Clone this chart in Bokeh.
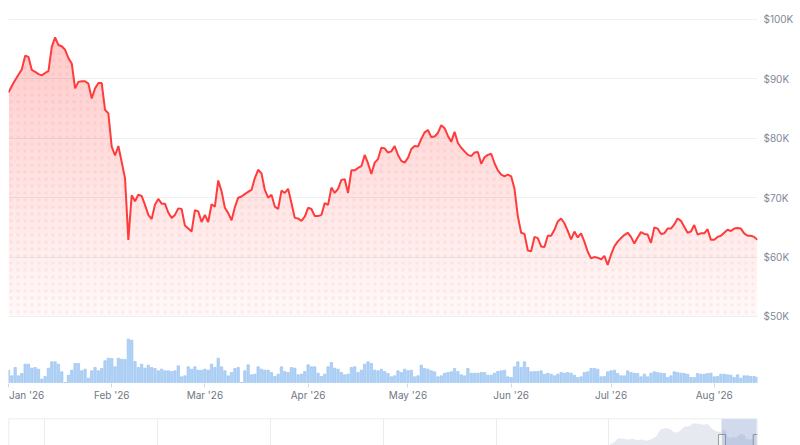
import numpy as np
import pandas as pd
from bokeh.plotting import figure
from bokeh.layouts import column
from bokeh.models import Range1d, FixedTicker, BoxAnnotation, Grid, Span
from bokeh.embed import file_html
from bokeh.resources import INLINE

# ---------------- data ----------------
start_date = "2026-01-01"

# daily price, thousands of USD (Jan 1 2026 onwards)
price_k = [
    87.7, 88.8, 89.8, 90.7, 91.6, 93.9, 93.7, 91.5, 91.2, 90.8,
    90.6, 91.0, 91.3, 95.4, 97.0, 95.7, 95.5, 94.9, 93.5, 92.6,
    88.4, 89.5, 89.6, 89.6, 89.2, 86.7, 88.4, 89.3, 89.3, 84.8,
    84.2, 78.6, 77.1, 78.7, 76.0, 73.3, 62.9, 70.4, 69.4, 70.5,
    70.3, 68.8, 67.1, 66.4, 68.8, 69.8, 69.0, 69.0, 67.5, 66.6,
    67.1, 68.2, 68.1, 65.3, 64.8, 64.3, 67.9, 67.7, 65.9, 67.1,
    65.9, 68.9, 68.5, 72.9, 71.1, 68.3, 67.4, 66.2, 68.4, 70.0,
    70.2, 70.6, 71.0, 71.3, 73.3, 74.7, 74.1, 71.3, 70.0, 70.5,
    68.5, 68.1, 71.2, 70.8, 71.5, 69.1, 66.6, 66.5, 66.1, 66.8,
    68.3, 68.1, 66.9, 66.9, 67.1, 69.1, 68.8, 71.7, 70.8, 71.5,
    73.0, 73.1, 70.8, 74.6, 74.6, 75.0, 75.3, 77.2, 75.8, 74.0,
    75.9, 76.5, 78.4, 78.3, 77.6, 77.8, 78.7, 77.2, 76.2, 75.9,
    76.7, 78.2, 78.7, 78.6, 79.9, 81.0, 81.4, 80.2, 80.3, 80.9,
    82.2, 81.7, 80.4, 79.4, 81.1, 79.2, 78.4, 77.8, 77.2, 77.0,
    77.6, 77.7, 75.7, 76.8, 77.2, 77.4, 75.8, 74.6, 73.9, 73.6,
    73.9, 73.6, 71.5, 66.9, 64.1, 63.9, 61.1, 61.0, 63.4, 63.2,
    61.8, 61.7, 63.6, 63.6, 64.6, 66.0, 66.5, 65.7, 64.4, 63.0,
    64.3, 63.3, 64.0, 62.6, 60.9, 59.8, 60.0, 59.9, 59.6, 60.2,
    58.7, 60.4, 61.8, 62.6, 63.2, 63.7, 64.1, 63.4, 62.3, 63.3,
    64.2, 63.9, 63.8, 62.4, 65.0, 64.8, 63.9, 64.0, 64.8, 64.8,
    65.5, 66.5, 66.1, 65.1, 64.1, 64.3, 65.4, 63.8, 64.0, 64.0,
    64.7, 62.9, 62.9, 63.4, 63.6, 64.1, 64.6, 64.4, 64.8, 64.9,
    64.8, 64.0, 63.6, 63.6, 63.4, 62.9,
]

# daily traded volume, billions of USD
volume_bn = [
    37, 20, 45, 20, 27, 55, 55, 43, 45, 40, 10, 18, 43, 62, 62, 55, 32, 0, 22, 37,
    57, 57, 35, 40, 13, 35, 45, 35, 42, 65, 73, 72, 47, 73, 70, 69, 130, 127, 63, 45,
    55, 43, 52, 45, 42, 35, 40, 35, 35, 33, 35, 50, 17, 20, 47, 40, 47, 37, 37, 40,
    37, 55, 45, 73, 47, 35, 20, 30, 42, 45, 0, 35, 53, 23, 25, 47, 40, 37, 37, 30,
    18, 25, 47, 33, 30, 45, 43, 23, 25, 33, 53, 47, 47, 28, 18, 25, 47, 60, 43, 40,
    30, 23, 25, 45, 47, 30, 37, 55, 62, 57, 37, 35, 40, 33, 27, 17, 20, 35,
    30, 40, 35, 37, 17, 20, 52, 42, 40, 35, 32, 17, 20, 28, 30, 32, 42, 33, 23, 20,
    42, 28, 28, 28, 30, 30, 22, 22, 28, 33, 35, 37, 17, 15, 47, 62, 45, 62, 45, 32,
    33, 33, 35, 25, 28, 25, 20, 25, 30, 28, 30, 28, 22, 15, 17, 30, 32, 42, 42, 40,
    17, 18, 32, 35, 37, 27, 20, 20, 35, 30, 28, 27, 17, 25, 17, 28, 32, 30, 28, 27,
    15, 20, 32, 30, 28, 27, 25, 15, 15, 27, 25, 25, 27, 28, 17, 18, 25, 25, 23, 22,
    15, 23, 13, 20, 20, 18, 18, 16,
]

price_ticks_k = [50, 60, 70, 80, 90, 100]
price_tick_labels = ["$50K", "$60K", "$70K", "$80K", "$90K", "$100K"]
month_labels = ["Jan '26", "Feb '26", "Mar '26", "Apr '26",
                "May '26", "Jun '26", "Jul '26", "Aug '26"]

# navigator history (monthly, thousands of USD), Jan 2024 .. Dec 2025
nav_hist_start = "2024-01-01"
nav_hist_k = [43, 52, 66, 64, 62, 64, 60, 62, 58, 63, 72, 96,
              100, 97, 84, 88, 104, 106, 116, 114, 111, 113, 96, 88]
nav_grid_years = [2014, 2016, 2018, 2020, 2022, 2024, 2026]

# ---------------- derived ----------------
t0 = pd.Timestamp(start_date)
dates = pd.date_range(start_date, periods=len(price_k), freq="D")
day = np.array((dates - t0).days, dtype=float)
price = np.array(price_k) * 1000.0
volume = np.array(volume_bn, dtype=float)
price_ticks = [v * 1000 for v in price_ticks_k]
month_starts = pd.date_range(start_date, periods=len(month_labels), freq="MS")
month_idx = [int((m - t0).days) for m in month_starts]

RED = "#ff3b3b"
FONT = "Inter"
FS = "10px"
W = 800

# ---------------- main chart ----------------
y_lo, y_hi = 38720, 101850
p = figure(width=W, height=417, output_backend="svg", toolbar_location=None,
           x_range=Range1d(day[0], day[-1]), y_range=Range1d(y_lo, y_hi),
           y_axis_location="right",
           min_border_left=8, min_border_right=43, min_border_top=8, min_border_bottom=34)
p.outline_line_color = None
p.background_fill_color = "white"
p.border_fill_color = "white"
p.xgrid.visible = False
p.ygrid.ticker = FixedTicker(ticks=price_ticks)
p.ygrid.grid_line_color = "#eef0f3"
p.ygrid.grid_line_width = 1

p.extra_y_ranges = {"vol": Range1d(-3, 1122)}

# volume bars
p.vbar(x=day, top=volume, bottom=0, width=0.72, y_range_name="vol",
       fill_color="#b0d2f6", line_color="#94c0ee", line_width=0.6)

# gradient-like fill under the price line (layered bands)
floor = float(price_ticks[0])


def clip_above(xs, ys, lo):
    ox, oy = [xs[0]], [max(ys[0], lo)]
    for i in range(1, len(xs)):
        xa, ya, xb, yb = xs[i - 1], ys[i - 1], xs[i], ys[i]
        if (ya - lo) * (yb - lo) < 0:
            t = (lo - ya) / (yb - ya)
            ox.append(xa + t * (xb - xa))
            oy.append(lo)
        ox.append(xb)
        oy.append(max(yb, lo))
    return ox, oy


p.varea(x=day, y1=floor, y2=price, fill_color=RED, fill_alpha=0.035)
for lo in np.arange(floor + 2000, price.max(), 2000):
    bx, by = clip_above(list(day), list(price), lo)
    p.varea(x=bx, y1=lo, y2=by, fill_color=RED, fill_alpha=0.012)
p.varea(x=day, y1=floor, y2=price, fill_alpha=0, hatch_pattern="dot",
        hatch_color=RED, hatch_alpha=0.08, hatch_scale=7, hatch_weight=1)

p.line(day, price, line_color=RED, line_width=2)

# y axis (right)
ya = p.yaxis[0]
ya.ticker = FixedTicker(ticks=price_ticks)
ya.major_label_overrides = {t: l for t, l in zip(price_ticks, price_tick_labels)}
ya.axis_line_color = None
ya.major_tick_line_color = None
ya.minor_tick_line_color = None
ya.major_tick_out = 0
ya.major_tick_in = 0
ya.major_label_standoff = 6
ya.major_label_text_font = FONT
ya.major_label_text_font_size = FS
ya.major_label_text_color = "#7f8898"

# x axis (below); the first label is padded so it stays inside the page
xa = p.xaxis[0]
xa.ticker = FixedTicker(ticks=month_idx)
overrides = {i: l for i, l in zip(month_idx, month_labels)}
overrides[month_idx[0]] = "\u00a0" * 3 + month_labels[0]
xa.major_label_overrides = overrides
xa.axis_line_color = None
xa.major_tick_line_color = "#d6dae0"
xa.minor_tick_line_color = None
xa.major_tick_out = 4
xa.major_tick_in = 0
xa.major_label_standoff = 1
xa.major_label_text_font = FONT
xa.major_label_text_font_size = FS
xa.major_label_text_color = "#6f7683"

# ---------------- navigator ----------------
hist_dates = pd.date_range(nav_hist_start, periods=len(nav_hist_k), freq="MS")
nav_x = list((hist_dates - t0).days.astype(float)) + list(day)
nav_y = [v * 1000 for v in nav_hist_k] + list(price)

nav_lo, nav_hi = 41800, 131700
nav_x0, nav_x1 = -4615, day[-1] + 5
nav = figure(width=W, height=28, output_backend="svg", toolbar_location=None,
             x_range=Range1d(nav_x0, nav_x1), y_range=Range1d(nav_lo, nav_hi),
             x_axis_location=None, y_axis_location=None,
             min_border_left=8, min_border_right=43, min_border_top=1, min_border_bottom=0)
nav.outline_line_color = None
nav.background_fill_color = "white"
nav.border_fill_color = "white"
nav.grid.visible = False
year_days = [int((pd.Timestamp(f"{yr}-01-01") - t0).days) for yr in nav_grid_years]
nav.add_layout(Grid(dimension=0, ticker=FixedTicker(ticks=year_days),
                    grid_line_color="#e9ecf0", grid_line_width=1))
nav.varea(x=nav_x, y1=0, y2=nav_y, fill_color="#e6eaf0")
nav.add_layout(BoxAnnotation(left=day[0], right=day[-1], fill_color="#6685c2",
                             fill_alpha=0.3, line_color=None))
for loc, dim in [(nav_hi, "width"), (nav_x0, "height"), (nav_x1, "height")]:
    nav.add_layout(Span(location=loc, dimension=dim, line_color="#e3e7ec", line_width=1.5))
nav_px = 27.0 / (nav_hi - nav_lo)
nav.rect(x=[day[0], day[-1]], y=[nav_hi - 24 / nav_px] * 2, width=7, height=16,
         width_units="screen", height_units="screen",
         fill_color="#f4f4f4", line_color="#9a9a9a", line_width=1)

layout = column(p, nav, spacing=0)
open("out.html", "w").write(file_html(layout, INLINE))
